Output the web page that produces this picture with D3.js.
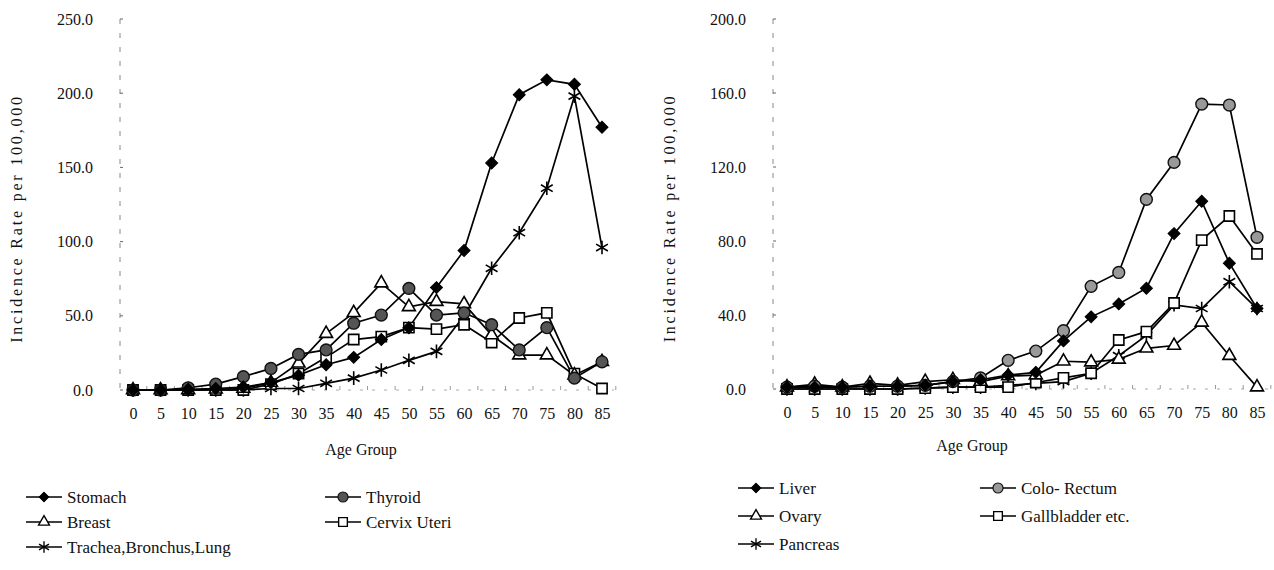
<!DOCTYPE html>
<html>
<head>
<meta charset="utf-8">
<script src="https://cdn.jsdelivr.net/npm/d3@7"></script>
<style>
  body { margin: 0; background: #fff; }
  svg, svg text { font-family: "Liberation Serif", "Times New Roman", Times, "DejaVu Serif", serif; }
</style>
</head>
<body>
<svg id="chart" width="1274" height="570"></svg>
<script>
// age groups on the x axis
var ages = ["0","5","10","15","20","25","30","35","40","45","50","55","60","65","70","75","80","85"];

// left panel series (rate per 100,000)
var stomach  = [0,0,0.5,1,2,5,10,17,22,34,42,69,94,153,199,209,206,177];
var thyroid  = [0,0,1.5,4,9,14.5,24,27,45,50.5,68.5,50.5,52,44,27,42,8,19];
var breast   = [0,0,0,0.5,1,5,18,38,52,72,56,59.5,58,37,23.5,23.5,10,19];
var cervix   = [0,0,0,0,0,4,11,22,34,36,42,41,44,32,48.5,52,11,1];
var lung     = [0,0,0,0,0,1,1,4.5,8,13.5,20,26,50,82,106,136,198,96];

// right panel series
var liver    = [1,1,1,1.5,1.5,2,4,5,7.5,9,26,39,46,54.5,84,101.5,68,43.5];
var colo     = [1,1.5,1,1.5,1.5,2,4,6,15.5,20.5,31.5,55.5,63,102.5,122.5,154,153.5,82];
var ovary    = [1,2.5,1,3,2,4,5,4,7,7.5,15,14.5,16,22,23.5,36,18,1];
var gall     = [0,0,0,0,0,0.5,1,1,1,3.5,6,8.5,26.5,31,46.5,80.5,93.5,73];
var pancreas = [0,0,0,0,0,0.5,1,1,2,3,4,8.5,18,29,45.5,43.5,58,43.5];

var leftTicks  = [0,50,100,150,200,250];
var rightTicks = [0,40,80,120,160,200];

var FONT = '"Liberation Serif", "Times New Roman", Times, serif';
var svg = d3.select("#chart");

// marker shapes
function marker(g, kind, fill) {
  var p;
  if (kind == "diamond") {
    p = g.append("path").attr("d", d3.symbol(d3.symbolSquare, 72)()).attr("transform", "rotate(45)")
      .attr("fill", "#000").attr("stroke", "#000").attr("stroke-width", 1);
  } else if (kind == "circle") {
    p = g.append("path").attr("d", d3.symbol(d3.symbolCircle, 110)())
      .attr("fill", fill).attr("stroke", "#111").attr("stroke-width", 1.4);
  } else if (kind == "triangle") {
    p = g.append("path").attr("d", d3.symbol(d3.symbolTriangle, 72)())
      .attr("fill", "#fff").attr("stroke", "#000").attr("stroke-width", 1.6);
  } else if (kind == "square") {
    p = g.append("path").attr("d", d3.symbol(d3.symbolSquare, 105)())
      .attr("fill", "#fff").attr("stroke", "#000").attr("stroke-width", 1.6);
  } else {
    p = g.append("path").attr("d", d3.symbol(d3.symbolAsterisk, 130)())
      .attr("fill", "none").attr("stroke", "#000").attr("stroke-width", 1.6);
  }
  return p;
}

function panel(cfg) {
  var x = d3.scalePoint().domain(ages).range([cfg.x0, cfg.x1]);
  var y = d3.scaleLinear().domain([0, cfg.ymax]).range([cfg.yBottom, cfg.yTop]);
  var g = svg.append("g").attr("font-family", FONT);

  // y axis: faint dashed rule with small ticks
  g.append("line")
    .attr("x1", cfg.axisX).attr("x2", cfg.axisX)
    .attr("y1", cfg.yTop).attr("y2", cfg.yBottom)
    .attr("stroke", "#888").attr("stroke-width", 1)
    .attr("stroke-dasharray", "5,9");
  var yAxis = d3.axisLeft(y).tickValues(cfg.ticks).tickSize(0).tickPadding(0)
    .tickFormat(d3.format(".1f"));
  var ya = g.append("g").attr("transform", "translate(" + (cfg.axisX - 27) + ",0)").call(yAxis)
    .attr("font-family", FONT).attr("font-size", 16);
  ya.select(".domain").remove();
  ya.selectAll("text").attr("fill", "#111");
  g.selectAll(".ytick").data(cfg.ticks).enter().append("line")
    .attr("x1", cfg.axisX).attr("x2", cfg.axisX + 3)
    .attr("y1", function(d) { return y(d); }).attr("y2", function(d) { return y(d); })
    .attr("stroke", "#666");

  // x axis: dotted baseline with small tick marks
  g.append("line")
    .attr("x1", cfg.axisX).attr("x2", cfg.x1 + 12)
    .attr("y1", y(0)).attr("y2", y(0))
    .attr("stroke", "#aaa").attr("stroke-width", 1)
    .attr("stroke-dasharray", "3,9");
  var xAxis = d3.axisBottom(x).tickSize(0).tickPadding(0);
  var xa = g.append("g").attr("transform", "translate(0," + (y(0) + 18) + ")").call(xAxis)
    .attr("font-family", FONT).attr("font-size", 16);
  xa.select(".domain").remove();
  xa.selectAll("text").attr("fill", "#111").attr("dy", "0.71em");
  g.selectAll(".xtick").data(ages).enter().append("line")
    .attr("x1", function(d) { return x(d) + x.step() / 2; })
    .attr("x2", function(d) { return x(d) + x.step() / 2; })
    .attr("y1", y(0)).attr("y2", y(0) - 4)
    .attr("stroke", "#999");

  // axis titles
  g.append("text")
    .attr("transform", "translate(" + cfg.titleX + "," + ((cfg.yTop + cfg.yBottom) / 2 + 14) + ") rotate(-90)")
    .attr("text-anchor", "middle").attr("font-size", 16).attr("letter-spacing", 2.8)
    .attr("fill", "#111")
    .text("Incidence Rate per 100,000");
  g.append("text")
    .attr("x", cfg.ageX).attr("y", cfg.ageY)
    .attr("text-anchor", "middle").attr("font-size", 16).attr("fill", "#111")
    .text("Age Group");

  var line = d3.line()
    .x(function(d, i) { return x(ages[i]); })
    .y(function(d) { return y(d); });

  cfg.series.forEach(function(s) {
    g.append("path").datum(s.values)
      .attr("d", line)
      .attr("fill", "none").attr("stroke", "#000").attr("stroke-width", 1.7);
  });
  // markers: later series first so the dark markers sit on top where they pile up
  cfg.series.slice().reverse().forEach(function(s) {
    s.values.forEach(function(v, i) {
      var mg = g.append("g").attr("transform", "translate(" + x(ages[i]) + "," + y(v) + ")");
      marker(mg, s.kind, s.fill);
    });
  });

  // legend
  cfg.series.forEach(function(s, i) {
    var col = cfg.legendCols[i % 2];
    var row = Math.floor(i / 2);
    var ly = cfg.legendRows[row];
    var lg = g.append("g").attr("transform", "translate(" + col + "," + ly + ")");
    lg.append("line").attr("x1", 0).attr("x2", 36).attr("y1", 0).attr("y2", 0)
      .attr("stroke", "#000").attr("stroke-width", 1.5);
    marker(lg.append("g").attr("transform", "translate(18,0) scale(0.85)"), s.kind, s.fill);
    lg.append("text").attr("x", 41).attr("y", 0).attr("dy", "0.35em")
      .attr("font-size", 17).attr("fill", "#111").text(s.name);
  });
}

panel({
  x0: 133, x1: 602, axisX: 120, yTop: 19, yBottom: 390, ymax: 250, ticks: leftTicks,
  titleX: 22, ageX: 361, ageY: 455,
  legendCols: [26, 325], legendRows: [497, 522, 547],
  series: [
    {name: "Stomach", values: stomach, kind: "diamond"},
    {name: "Thyroid", values: thyroid, kind: "circle", fill: "#555"},
    {name: "Breast", values: breast, kind: "triangle"},
    {name: "Cervix Uteri", values: cervix, kind: "square"},
    {name: "Trachea,Bronchus,Lung", values: lung, kind: "asterisk"}
  ]
});

panel({
  x0: 787, x1: 1257, axisX: 773, yTop: 19, yBottom: 389, ymax: 200, ticks: rightTicks,
  titleX: 675, ageX: 972, ageY: 451,
  legendCols: [738, 980], legendRows: [488, 516, 544],
  series: [
    {name: "Liver", values: liver, kind: "diamond"},
    {name: "Colo- Rectum", values: colo, kind: "circle", fill: "#999"},
    {name: "Ovary", values: ovary, kind: "triangle"},
    {name: "Gallbladder etc.", values: gall, kind: "square"},
    {name: "Pancreas", values: pancreas, kind: "asterisk"}
  ]
});
</script>
</body>
</html>
